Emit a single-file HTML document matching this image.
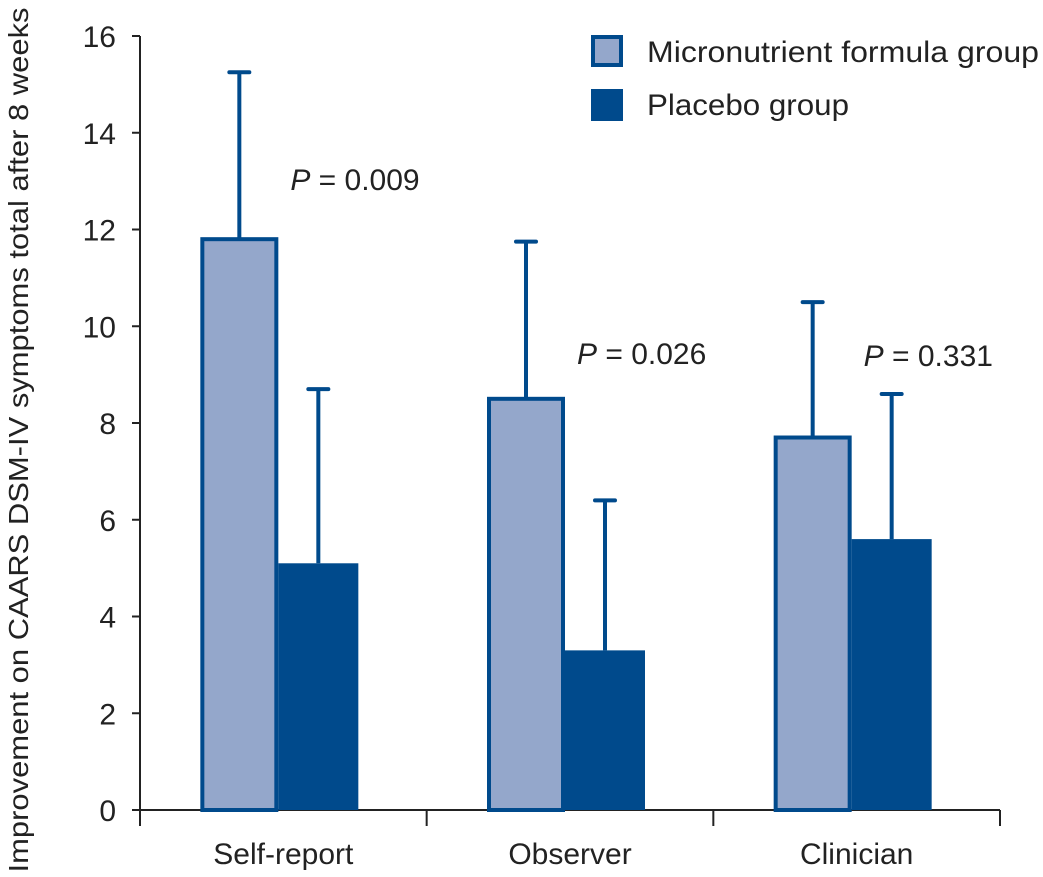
<!DOCTYPE html>
<html><head><meta charset="utf-8"><style>
body{margin:0;background:#fff;}
svg{display:block;font-family:"Liberation Sans",sans-serif;}
</style></head><body>
<svg id="chart" width="1043" height="877" viewBox="0 0 1043 877"></svg>
<script>
const categories=["Self-report","Observer","Clinician"];
const microValues=[11.8,8.5,7.7];
const placeboValues=[5.1,3.3,5.6];
const microErrTop=[15.25,11.75,10.5];
const placeboErrTop=[8.7,6.4,8.6];
const pLabels=["0.009","0.026","0.331"];
const yTicks=[0,2,4,6,8,10,12,14,16];

const NS="http://www.w3.org/2000/svg";
const svg=document.getElementById('chart');
const x0=140,x1=1000,yBase=810,yTop=36;
const y=v=>yBase-(v/16)*(yBase-yTop);
const band=(x1-x0)/categories.length;
const BLUE="#004a8c",LIGHT="#94a7cb";
function el(t,a,p){const e=document.createElementNS(NS,t);for(const k in a)e.setAttribute(k,a[k]);(p||svg).appendChild(e);return e;}

let ax=el('line',{x1:x0,y1:yTop,x2:x0,y2:yBase,stroke:"#222","stroke-width":2});


yTicks.forEach(t=>{
  const tk=el('line',{x1:x0-8,y1:y(t),x2:x0,y2:y(t),stroke:"#222","stroke-width":2});
  
  
  const tl=el('text',{x:x0-24,y:y(t)+11,"text-anchor":"end","font-size":30,fill:"#222"});
  tl.textContent=t;
  
  
});
let xa=el('line',{x1:x0,y1:yBase,x2:x1,y2:yBase,stroke:"#222","stroke-width":2});


for(let i=0;i<=categories.length;i++){
  const tk=el('line',{x1:x0+i*band,y1:yBase,x2:x0+i*band,y2:yBase+16,stroke:"#222","stroke-width":2});
  
  
}
let yt=el('text',{transform:"translate(28,440) rotate(-90)","text-anchor":"middle","font-size":28,fill:"#222",textLength:865,lengthAdjust:"spacingAndGlyphs"});
yt.textContent="Improvement on CAARS DSM-IV symptoms total after 8 weeks";



const bw=78;
function errBar(cx,v,top){
  const l=el('line',{x1:cx,y1:y(v),x2:cx,y2:y(top),stroke:BLUE,"stroke-width":4});
  
  
  const c=el('line',{x1:cx-10,y1:y(top),x2:cx+10,y2:y(top),stroke:BLUE,"stroke-width":4,"stroke-linecap":"round"});
  
  
}
const pY=[190,364,366];
categories.forEach((c,i)=>{
  const cx=x0+band*(i+0.5);
  const lx=cx-bw-5, dx=cx-5;
  errBar(lx+bw/2,microValues[i],microErrTop[i]);
  errBar(dx+bw/2+1,placeboValues[i],placeboErrTop[i]);
  const b1=el('rect',{x:lx+2,y:y(microValues[i]),width:bw-4,height:yBase-y(microValues[i]),fill:LIGHT,stroke:BLUE,"stroke-width":4});
  
  
  const b2=el('rect',{x:dx,y:y(placeboValues[i]),width:bw+2,height:yBase-y(placeboValues[i]),fill:BLUE});
  
  
  const t=el('text',{x:cx,y:864,"text-anchor":"middle","font-size":30,fill:"#222"});
  t.textContent=c;
  
  
  const p=el('text',{x:lx+bw+12,y:pY[i],"font-size":30,fill:"#222"});
  p.innerHTML='<tspan font-style="italic">P</tspan> = '+pLabels[i];
  
  
});

const lg=el('g',{});


const r1=el('rect',{x:593,y:37,width:28,height:28,fill:LIGHT,stroke:BLUE,"stroke-width":4},lg);


const t1=el('text',{x:647,y:62,"font-size":30,fill:"#222",textLength:392,lengthAdjust:"spacingAndGlyphs"},lg);
t1.textContent="Micronutrient formula group";


const r2=el('rect',{x:591,y:89,width:32,height:32,fill:BLUE},lg);


const t2=el('text',{x:647,y:115,"font-size":30,fill:"#222",textLength:202,lengthAdjust:"spacingAndGlyphs"},lg);
t2.textContent="Placebo group";


</script>
</body></html>
